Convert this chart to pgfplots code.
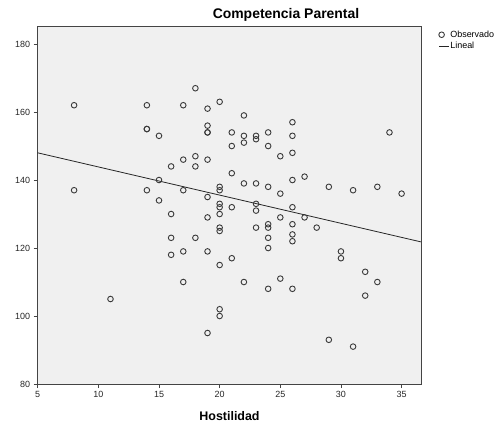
\documentclass[border=0pt]{standalone}
\usepackage{pgfplots}
\pgfplotsset{compat=1.18}
\usepackage{fontspec}
\setmainfont{Liberation Sans}
\definecolor{bgc}{HTML}{F0F0F0}
\definecolor{mk}{HTML}{3A3A3A}
\definecolor{fr}{HTML}{444444}
\pgfplotsset{
  shortline/.style={legend image code/.code={\path[draw=none] (-3.1bp,0bp) -- (8bp,0bp);\draw[##1] (-1.5bp,0bp) -- (8bp,0bp);}},
  circleleg/.style={legend image code/.code={\path[draw=none] (-3.1bp,0bp) -- (8bp,0bp);\draw[draw=mk, line width=0.9bp] (0.7bp,0bp) circle[radius=2.8bp];}},
}
\pgfplotstableread{
x y
8 162
8 137
11 105
14 162
14 155
14 155
14 137
15 153
15 140
15 134
16 144
16 130
16 123
16 118
17 162
17 146
17 137
17 119
17 110
18 167
18 147
18 144
18 123
19 161
19 156
19 154
19 154
19 146
19 135
19 129
19 119
19 95
20 163
20 138
20 137
20 133
20 132
20 130
20 126
20 125
20 115
20 102
20 100
21 154
21 150
21 142
21 132
21 117
22 159
22 153
22 151
22 139
22 110
23 153
23 152
23 139
23 133
23 131
23 126
24 154
24 150
24 138
24 127
24 126
24 123
24 120
24 108
25 147
25 136
25 129
25 111
26 157
26 153
26 148
26 140
26 132
26 127
26 124
26 122
26 108
27 141
27 129
28 126
29 138
29 93
30 119
30 117
31 137
31 91
32 113
32 106
33 138
33 110
34 154
35 136
}\obs
\begin{document}
\begin{tikzpicture}[x=1bp,y=1bp]
\path[use as bounding box] (0,0) rectangle (503,425);
\begin{axis}[
 at={(37.7bp,41bp)}, anchor=south west,
 scale only axis, width=383.3bp, height=357.3bp,
 xmin=5, xmax=36.6, ymin=80, ymax=185.1,
 xtick={5,10,...,35}, ytick={80,100,...,180},
 axis background/.style={fill=bgc},
 axis line style={draw=fr, line width=0.8bp},
 tick align=outside, tick pos=left,
 major tick length=4bp,
 every tick/.style={draw=fr, line width=0.8bp},
 tick label style={font=\fontsize{9}{10}\selectfont, text=black!85},
 /pgf/number format/assume math mode=true,
 legend style={at={(1.0433,0.992)}, anchor=north west, draw=none, fill=none,
   font=\fontsize{9}{10}\selectfont, row sep=1.2bp, column sep=0pt, inner sep=0pt,
   nodes={inner sep=1bp}},
 legend cell align=left,
]
\addplot[only marks, mark=o, mark size=2.8bp, mark options={draw=mk, line width=0.9bp}, circleleg]
  table[x=x,y=y]{\obs};
\addlegendentry{Observado}
\addplot[draw=black!85, line width=0.8bp, shortline]
  coordinates {(5,148.0) (36.6,121.8)};
\addlegendentry{Lineal}
\end{axis}
\node[font=\bfseries\fontsize{14}{16}\selectfont] at (286,410) {Competencia Parental};
\node[font=\bfseries\fontsize{12.5}{14}\selectfont] at (229.5,9) {Hostilidad};
\end{tikzpicture}
\end{document}
